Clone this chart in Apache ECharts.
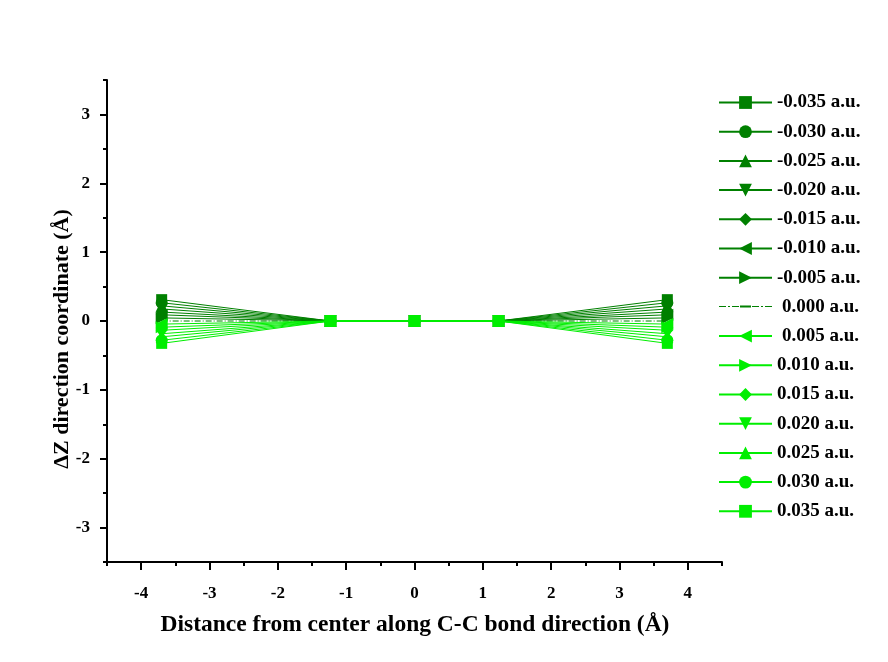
<!DOCTYPE html>
<html>
<head>
<meta charset="utf-8">
<script src="https://cdn.jsdelivr.net/npm/echarts@6/dist/echarts.min.js"></script>
<style>
  html, body { margin: 0; padding: 0; background: #ffffff; }
  #chart { width: 888px; height: 662px; }
</style>
</head>
<body>
<div id="chart"></div>
<script>
// Applied electric field strengths (legend entries)
const fieldLabels = [
  '-0.035 a.u.', '-0.030 a.u.', '-0.025 a.u.', '-0.020 a.u.', '-0.015 a.u.',
  '-0.010 a.u.', '-0.005 a.u.', '0.000 a.u.', '0.005 a.u.', '0.010 a.u.',
  '0.015 a.u.', '0.020 a.u.', '0.025 a.u.', '0.030 a.u.', '0.035 a.u.'
];

// Atom positions along the C-C bond direction (Å)
const atomX = [-3.7, -1.23, 0, 1.23, 3.7];

// ΔZ coordinate of each atom for every field strength (Å)
const zRows = [
  [0.31, 0, 0, 0, 0.31],
  [0.265, 0, 0, 0, 0.265],
  [0.22, 0, 0, 0, 0.22],
  [0.175, 0, 0, 0, 0.175],
  [0.13, 0, 0, 0, 0.13],
  [0.09, 0, 0, 0, 0.09],
  [0.045, 0, 0, 0, 0.045],
  [0, 0, 0, 0, 0],
  [-0.045, 0, 0, 0, -0.045],
  [-0.09, 0, 0, 0, -0.09],
  [-0.135, 0, 0, 0, -0.135],
  [-0.185, 0, 0, 0, -0.185],
  [-0.23, 0, 0, 0, -0.23],
  [-0.28, 0, 0, 0, -0.28],
  [-0.325, 0, 0, 0, -0.325]
];

// Tick values
const xMajorTicks = [-4, -3, -2, -1, 0, 1, 2, 3, 4];
const xMinorTicks = [-4.5, -3.5, -2.5, -1.5, -0.5, 0.5, 1.5, 2.5, 3.5, 4.5];
const yMajorTicks = [-3, -2, -1, 0, 1, 2, 3];
const yMinorTicks = [-3.5, -2.5, -1.5, -0.5, 0.5, 1.5, 2.5, 3.5];

const xTitle = 'Distance from center along C-C bond direction (Å)';
const yTitle = 'ΔZ direction coordinate (Å)';

const DARK = '#008000';
const BRIGHT = '#00ee00';
const FONT = '"Liberation Serif", "Times New Roman", serif';

const TRI_DOWN = 'path://M0,0 L10,0 L5,9 Z';
const TRI_LEFT = 'path://M0,5 L9,0 L9,10 Z';
const TRI_RIGHT = 'path://M0,0 L9,5 L0,10 Z';
// dash-dot legend sample for the zero-field curve (drawn in a 53x16 box)
const DASH_DOT_ICON = 'path://M0,0 L0.01,0 L0.01,0.01 Z M53,16 L52.99,16 L52.99,15.99 Z ' +
  'M0,7 h7 v1.2 h-7 Z M9,7 h2 v1.2 h-2 Z M13,7 h7 v1.2 h-7 Z ' +
  'M21,6.6 h11 v2 h-11 Z M33,7 h7 v1.2 h-7 Z M42,7 h2 v1.2 h-2 Z M46,7 h7 v1.2 h-7 Z';

const shapes = [
  'rect', 'circle', 'triangle', TRI_DOWN, 'diamond', TRI_LEFT, TRI_RIGHT,
  'none',
  TRI_LEFT, TRI_RIGHT, 'diamond', TRI_DOWN, 'triangle', 'circle', 'rect'
];

const series = fieldLabels.map((name, i) => {
  const color = i <= 7 ? DARK : BRIGHT;
  const zero = i === 7;
  return {
    name: name,
    type: 'line',
    data: atomX.map((x, j) => [x, zRows[i][j]]),
    symbol: shapes[i],
    symbolSize: shapes[i] === 'rect' ? 11 : 12,
    showSymbol: true,
    itemStyle: { color: color },
    lineStyle: {
      color: color,
      width: 1,
      type: zero ? [6, 2, 1, 2] : 'solid'
    },
    animation: false,
    z: 2 + i
  };
});

const legendData = fieldLabels.map((name, i) => {
  const item = { name: name };
  if (i === 7) {
    item.icon = DASH_DOT_ICON;
  }
  if (i === 7 || i === 8) {
    item.textStyle = { padding: [0, 0, 0, 5] };
  }
  return item;
});

const chart = echarts.init(document.getElementById('chart'), null, { renderer: 'canvas' });

chart.setOption({
  backgroundColor: '#ffffff',
  animation: false,
  grid: { left: 107, right: 166, top: 80, bottom: 100, containLabel: false },
  legend: {
    orient: 'vertical',
    left: 713,
    top: 88,
    itemWidth: 53,
    itemHeight: 16,
    itemGap: 10.2,
    data: legendData,
    textStyle: {
      fontFamily: FONT,
      fontWeight: 'bold',
      fontSize: 19,
      color: '#000'
    }
  },
  graphic: [
    {
      type: 'text',
      x: 415,
      y: 625,
      style: {
        text: xTitle,
        fontFamily: FONT, fontWeight: 'bold', fontSize: 23.5, fill: '#000',
        align: 'center', verticalAlign: 'middle'
      },
      silent: true
    },
    {
      type: 'text',
      x: 62,
      y: 339,
      rotation: Math.PI / 2,
      style: {
        text: yTitle,
        fontFamily: FONT, fontWeight: 'bold', fontSize: 22, fill: '#000',
        align: 'center', verticalAlign: 'middle'
      },
      silent: true
    }
  ],
  xAxis: [
    {
      type: 'value',
      min: -4.5,
      max: 4.5,
      position: 'bottom',
      axisLine: { show: true, onZero: false, lineStyle: { color: '#000', width: 2 } },
      axisTick: { show: true, inside: false, length: 8, customValues: xMajorTicks, lineStyle: { color: '#000', width: 2 } },
      axisLabel: {
        show: true, customValues: xMajorTicks, margin: 23,
        fontFamily: FONT, fontWeight: 'bold', fontSize: 17, color: '#000'
      },
      splitLine: { show: false }
    },
    {
      type: 'value',
      min: -4.5,
      max: 4.5,
      position: 'bottom',
      axisLine: { show: false, onZero: false },
      axisTick: { show: true, inside: false, length: 4, customValues: xMinorTicks, lineStyle: { color: '#000', width: 2 } },
      axisLabel: { show: false },
      splitLine: { show: false }
    }
  ],
  yAxis: [
    {
      type: 'value',
      min: -3.5,
      max: 3.5,
      position: 'left',
      axisLine: { show: true, onZero: false, lineStyle: { color: '#000', width: 2 } },
      axisTick: { show: true, inside: false, length: 7, customValues: yMajorTicks, lineStyle: { color: '#000', width: 2 } },
      axisLabel: {
        show: true, customValues: yMajorTicks, margin: 17,
        fontFamily: FONT, fontWeight: 'bold', fontSize: 17, color: '#000'
      },
      splitLine: { show: false }
    },
    {
      type: 'value',
      min: -3.5,
      max: 3.5,
      position: 'left',
      axisLine: { show: false, onZero: false },
      axisTick: { show: true, inside: false, length: 4, customValues: yMinorTicks, lineStyle: { color: '#000', width: 2 } },
      axisLabel: { show: false },
      splitLine: { show: false }
    }
  ],
  series: series
});
</script>
</body>
</html>
